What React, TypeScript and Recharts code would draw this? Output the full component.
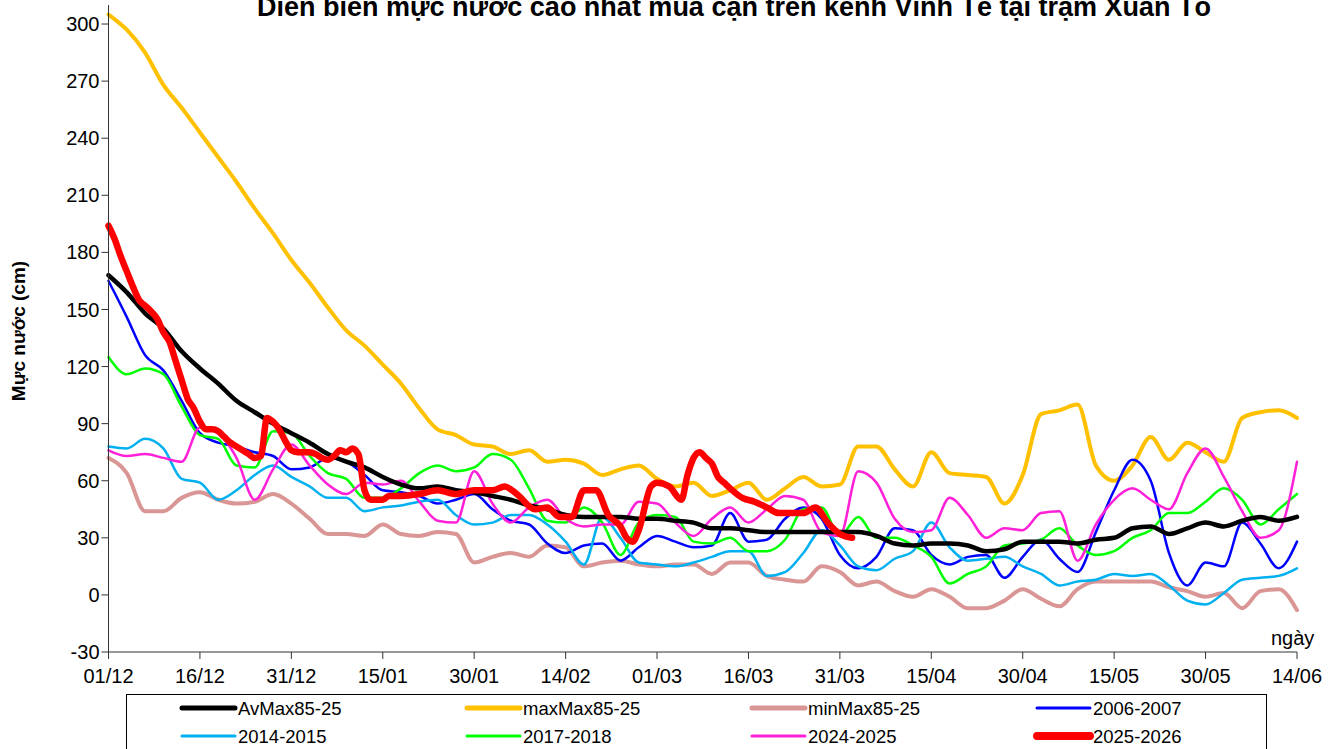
import React from "react";
import { LineChart, Line, XAxis, YAxis } from "recharts";

// day index counted from 01/12, sampled every 3 days
const DAYS = [
  0, 3, 6, 9, 12, 15, 18, 21, 24, 27, 30, 33, 36, 39, 42, 45, 48, 51, 54, 57,
  60, 63, 66, 69, 72, 75, 78, 81, 84, 87, 90, 93, 96, 99, 102, 105, 108, 111, 114, 117,
  120, 123, 126, 129, 132, 135, 138, 141, 144, 147, 150, 153, 156, 159, 162, 165, 168, 171, 174, 177,
  180, 183, 186, 189, 192, 195,
];
const TICK_DAYS = [0, 15, 30, 45, 60, 75, 90, 105, 120, 135, 150, 165, 180, 195];
const TICK_LABELS = ["01/12", "16/12", "31/12", "15/01", "30/01", "14/02", "01/03", "16/03", "31/03", "15/04", "30/04", "15/05", "30/05", "14/06"];
const Y_TICKS = [-30, 0, 30, 60, 90, 120, 150, 180, 210, 240, 270, 300];

const AV_MAX = [
  168, 159, 148, 140, 128, 119, 111, 102, 96, 90, 85, 80, 74, 70, 67, 62, 58, 56, 57, 55,
  54, 52, 50, 47, 45, 42, 41, 41, 41, 40, 40, 39, 38, 35, 35, 34, 33, 33, 33, 33,
  33, 33, 31, 27, 26, 27, 27, 26, 23, 24, 28, 28, 28, 27, 29, 30, 35, 36, 32, 35,
  38, 36, 39, 41, 39, 41,
];
const MAX_MAX = [
  305, 297, 285, 268, 256, 243, 230, 217, 203, 190, 176, 164, 151, 139, 131, 121, 111, 98, 87, 84,
  79, 78, 74, 76, 70, 71, 69, 63, 66, 68, 61, 57, 59, 52, 55, 59, 50, 56, 62, 57,
  58, 78, 78, 66, 57, 75, 64, 63, 62, 48, 63, 95, 97, 100, 68, 60, 68, 83, 71, 80,
  75, 70, 93, 96, 97, 93,
];
const MIN_MAX = [
  72, 64, 44, 44, 51, 54, 50, 48, 49, 53, 48, 40, 32, 32, 31, 37, 32, 31, 33, 32,
  17, 20, 22, 20, 26, 25, 15, 17, 18, 16, 15, 16, 16, 11, 17, 17, 10, 8, 7, 15,
  12, 5, 7, 2, -1, 3, -1, -7, -7, -3, 3, -2, -6, 3, 7, 7, 7, 7, 4, 2,
  -1, 1, -7, 2, 3, -8,
];
const Y2006 = [
  165, 146, 126, 118, 102, 85, 80, 78, 75, 73, 66, 67, 72, 70, 63, 55, 54, 52, 48, 50,
  53, 45, 39, 37, 27, 22, 26, 27, 18, 25, 31, 28, 25, 26, 43, 28, 29, 40, 46, 40,
  21, 14, 20, 35, 34, 21, 16, 20, 21, 9, 20, 29, 19, 12, 33, 55, 71, 60, 22, 5,
  17, 15, 38, 27, 14, 28,
];
const Y2014 = [
  78, 77, 82, 77, 61, 59, 50, 55, 63, 68, 62, 57, 51, 51, 44, 46, 47, 49, 50, 42,
  37, 38, 42, 42, 37, 28, 16, 41, 30, 17, 16, 15, 17, 20, 23, 23, 10, 12, 22, 34,
  26, 15, 13, 19, 23, 38, 25, 18, 19, 20, 15, 11, 5, 7, 8, 11, 10, 11, 5, -3,
  -5, 1, 8, 9, 10, 14,
];
const Y2017 = [
  125, 116, 119, 116, 99, 84, 82, 68, 67, 86, 85, 73, 64, 61, 51, 51, 56, 64, 68, 65,
  67, 74, 71, 56, 39, 38, 46, 38, 21, 38, 42, 41, 28, 27, 30, 23, 23, 29, 45, 46,
  31, 41, 30, 30, 26, 20, 6, 11, 15, 26, 27, 29, 35, 26, 21, 23, 30, 34, 43, 43,
  49, 56, 50, 37, 45, 53,
];
const Y2024 = [
  76, 73, 74, 72, 70, 88, 85, 72, 50, 66, 79, 68, 58, 53, 59, 58, 60, 49, 39, 38,
  65, 48, 38, 46, 50, 40, 36, 37, 37, 49, 48, 38, 31, 40, 46, 38, 45, 52, 50, 33,
  31, 65, 59, 40, 33, 34, 51, 42, 30, 35, 34, 43, 44, 18, 37, 50, 56, 50, 45, 64,
  77, 62, 44, 30, 34, 70,
];
// current season, denser sampling, ends early April
const RED_DAYS = [
  0, 1, 2, 3, 4, 5, 6, 7, 8, 9, 10, 11, 12, 13, 14, 15, 16, 17, 18, 19,
  20, 21, 22, 23, 24, 25, 26, 27, 28, 29, 30, 31, 32, 33, 34, 35, 36, 37, 38, 39,
  40, 41, 42, 43, 44, 45, 46, 48, 51, 54, 57, 60, 63, 65, 67, 70, 72, 74, 76, 78,
  80, 82, 84, 85, 86, 87, 89, 90, 92, 94, 95, 96, 97, 98, 99, 100, 101, 102, 104, 106,
  108, 110, 112, 114, 116, 118, 120, 122,
];
const RED_VALUES = [
  194, 187, 178, 170, 162, 155, 152, 149, 145, 138, 133, 123, 113, 103, 98, 91, 87, 87, 86, 83,
  80, 78, 76, 74, 72, 73, 93, 91, 87, 81, 76, 75, 75, 75, 74, 72, 71, 73, 76, 75,
  77, 74, 55, 50, 50, 50, 52, 52, 53, 55, 53, 55, 55, 57, 53, 45, 46, 41, 41, 55,
  55, 42, 36, 30, 28, 34, 57, 59, 57, 50, 63, 72, 75, 72, 69, 62, 59, 56, 51, 49,
  46, 43, 43, 43, 46, 38, 32, 30,
];

const FONT = '"Liberation Sans", Arial, sans-serif';

const SERIES = [
  { key: "avg", name: "AvMax85-25", color: "#000000", width: 4.5, legendW: 5, values: AV_MAX },
  { key: "max", name: "maxMax85-25", color: "#FFC000", width: 4, legendW: 5, values: MAX_MAX },
  { key: "min", name: "minMax85-25", color: "#D99694", width: 4, legendW: 5, values: MIN_MAX },
  { key: "y06", name: "2006-2007", color: "#0000FF", width: 2.5, legendW: 3, values: Y2006 },
  { key: "y14", name: "2014-2015", color: "#00B0F0", width: 2.5, legendW: 3, values: Y2014 },
  { key: "y17", name: "2017-2018", color: "#00FF00", width: 2.5, legendW: 3, values: Y2017 },
  { key: "y24", name: "2024-2025", color: "#FF20D8", width: 2.5, legendW: 3, values: Y2024 },
  { key: "cur", name: "2025-2026", color: "#FF0000", width: 6.5, legendW: 8, values: RED_VALUES },
];
const DRAW_ORDER = ["max", "min", "y06", "y14", "y17", "y24", "avg"];

const rows = DAYS.map((d, i) => {
  const r: any = { d };
  SERIES.forEach(s => { if (s.key !== "cur") r[s.key] = s.values[i]; });
  return r;
});
const redRows = RED_DAYS.map((d, i) => ({ d, cur: RED_VALUES[i] }));

export default function App() {
  const red = SERIES.find(s => s.key === "cur")!;
  return (
    <div style={{ position: "absolute", left: 0, top: 0, width: 1344, height: 749, overflow: "hidden", background: "#fff", fontFamily: FONT }}>
      <LineChart width={1344} height={749} data={rows} margin={{ top: 5, right: 47, bottom: 67, left: 48.5 }}>
        <XAxis
          type="number" dataKey="d" domain={[0, 195]} ticks={TICK_DAYS} interval={0}
          tickFormatter={v => TICK_LABELS[TICK_DAYS.indexOf(v)]}
          height={30} tickSize={7} tickMargin={10}
          axisLine={{ stroke: "#333" }} tickLine={{ stroke: "#333" }}
          tick={{ fontSize: 20, fill: "#000", fontFamily: FONT }}
        />
        <YAxis
          type="number" domain={[-30, 310]} ticks={Y_TICKS} interval={0} allowDataOverflow
          width={60} tickSize={7} tickMargin={2}
          axisLine={{ stroke: "#333" }} tickLine={{ stroke: "#333" }}
          tick={{ fontSize: 20, fill: "#000", fontFamily: FONT }}
        />
        {DRAW_ORDER.map(k => {
          const s = SERIES.find(x => x.key === k)!;
          return (
            <Line key={k} type="monotone" dataKey={k} stroke={s.color} strokeWidth={s.width}
              dot={false} isAnimationActive={false} strokeLinejoin="round" strokeLinecap="round" />
          );
        })}
        <Line data={redRows} type="monotone" dataKey="cur" stroke={red.color} strokeWidth={red.width}
          dot={false} isAnimationActive={false} strokeLinejoin="round" strokeLinecap="round" />
      </LineChart>

      <svg width={1344} height={749} style={{ position: "absolute", left: 0, top: 0, pointerEvents: "none" }}>
        <text x={734} y={16} textAnchor="middle" fontSize={27} fontWeight="bold" fontFamily={FONT} fill="#000">
          Diễn biến mực nước cao nhất mùa cạn trên kênh Vĩnh Tế tại trạm Xuân Tô
        </text>
        <text x={0} y={0} transform="translate(25,331) rotate(-90)" textAnchor="middle" fontSize={19} fontWeight="bold" fontFamily={FONT} fill="#000">
          Mực nước (cm)
        </text>
        <text x={1271} y={645} fontSize={20} fontFamily={FONT} fill="#000">ngày</text>

        <rect x={126.5} y={694.5} width={1140} height={70} fill="none" stroke="#000" strokeWidth={1} />
        {SERIES.map((s, i) => {
          const col = i % 4;
          const row = Math.floor(i / 4);
          const x = 182 + col * 285;
          const y = 708 + row * 28;
          return (
            <g key={s.key}>
              <line x1={x} x2={x + 53} y1={y} y2={y} stroke={s.color} strokeWidth={s.legendW} strokeLinecap="round" />
              <text x={x + 56} y={y + 6.5} fontSize={18.5} fontFamily={FONT} fill="#000">{s.name}</text>
            </g>
          );
        })}
      </svg>
    </div>
  );
}
